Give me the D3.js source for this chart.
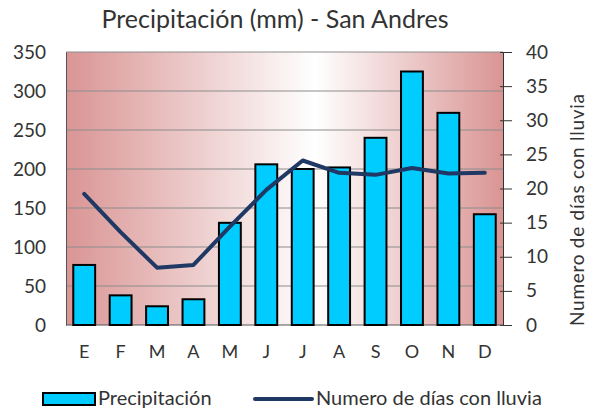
<!DOCTYPE html>
<html>
<head>
<meta charset="utf-8">
<script src="https://cdn.jsdelivr.net/npm/d3@7"></script>
<style>
  body { margin: 0; background: #fff; }
  text { font-family: Lato, "Open Sans", sans-serif; fill: #333; }
</style>
</head>
<body>
<div id="chart"></div>
<script>
  // Chart data
  const months = ["E", "F", "M", "A", "M", "J", "J", "A", "S", "O", "N", "D"];
  const precipitacion = [77, 38, 24, 33, 131, 206, 200, 202, 240, 325, 272, 142];
  const diasLluvia = [19.2, 13.6, 8.4, 8.8, 14.4, 19.8, 24.1, 22.3, 22, 23, 22.2, 22.3];
  const leftTicks = [0, 50, 100, 150, 200, 250, 300, 350];
  const rightTicks = [0, 5, 10, 15, 20, 25, 30, 35, 40];

  const width = 589, height = 408;
  const margin = { top: 52, right: 86, bottom: 83, left: 66 };
  const innerW = width - margin.left - margin.right;
  const innerH = height - margin.top - margin.bottom;

  const svg = d3.select("#chart").append("svg")
    .attr("width", width)
    .attr("height", height);

  // background gradient: pink at both edges, white in the middle
  const defs = svg.append("defs");
  const grad = defs.append("linearGradient").attr("id", "bg").attr("x1", 0).attr("x2", 1).attr("y1", 0).attr("y2", 0);
  grad.append("stop").attr("offset", "0%").attr("stop-color", "#d99594");
  grad.append("stop").attr("offset", "57%").attr("stop-color", "#ffffff");
  grad.append("stop").attr("offset", "100%").attr("stop-color", "#d99594");

  const g = svg.append("g").attr("transform", `translate(${margin.left},${margin.top})`);

  const x = d3.scaleBand().domain(d3.range(months.length)).range([0, innerW]).paddingInner(0.4).paddingOuter(0.2);
  const yL = d3.scaleLinear().domain([0, 350]).range([innerH, 0]);
  const yR = d3.scaleLinear().domain([0, 40]).range([innerH, 0]);

  g.append("rect").attr("width", innerW).attr("height", innerH).attr("fill", "url(#bg)");

  // gridlines
  g.append("g").selectAll("line").data(leftTicks.filter(d => d > 0)).join("line")
    .attr("x1", 0).attr("x2", innerW)
    .attr("y1", d => yL(d)).attr("y2", d => yL(d))
    .attr("stroke", "#8c8c8c").attr("stroke-width", 1);

  // left axis
  const axL = g.append("g").call(d3.axisLeft(yL).tickValues(leftTicks).tickSize(0).tickPadding(20));
  axL.select(".domain").attr("stroke", "#555");
  axL.selectAll("text").style("font-size", "19px").attr("fill", "#333");

  // right axis
  const axR = g.append("g").attr("transform", `translate(${innerW},0)`)
    .call(d3.axisRight(yR).tickValues(rightTicks).tickSize(9).tickPadding(14));
  axR.select(".domain").attr("stroke", "#333");
  axR.selectAll(".tick line").attr("x1", -3).attr("stroke", "#333");
  axR.selectAll("text").style("font-size", "19px").attr("fill", "#333");

  // bottom axis line
  g.append("line").attr("x1", 0).attr("x2", innerW).attr("y1", innerH).attr("y2", innerH).attr("stroke", "#555");

  // bars
  g.append("g").selectAll("rect").data(precipitacion).join("rect")
    .attr("x", (d, i) => x(i))
    .attr("y", d => yL(d))
    .attr("width", x.bandwidth())
    .attr("height", d => innerH - yL(d))
    .attr("fill", "#00ccff")
    .attr("stroke", "#000")
    .attr("stroke-width", 2);

  // line
  const line = d3.line().x((d, i) => x(i) + x.bandwidth() / 2).y(d => yR(d));
  g.append("path").datum(diasLluvia)
    .attr("d", line)
    .attr("fill", "none")
    .attr("stroke", "#1f3864")
    .attr("stroke-width", 4)
    .attr("stroke-linejoin", "round")
    .attr("stroke-linecap", "round");

  // month labels
  g.append("g").selectAll("text").data(months).join("text")
    .attr("x", (d, i) => x(i) + x.bandwidth() / 2)
    .attr("y", innerH + 33)
    .attr("text-anchor", "middle")
    .style("font-size", "18px")
    .text(d => d);

  // title
  svg.append("text").attr("x", 275).attr("y", 28).attr("text-anchor", "middle")
    .style("font-size", "25px").text("Precipitación (mm) - San Andres");

  // right axis title
  svg.append("text").attr("transform", "translate(584,210) rotate(-90)")
    .attr("text-anchor", "middle").style("font-size", "19px")
    .attr("textLength", 232).attr("lengthAdjust", "spacing")
    .text("Numero de días con lluvia");

  // legend
  const lg = svg.append("g");
  lg.append("rect").attr("x", 43).attr("y", 393).attr("width", 52).attr("height", 12)
    .attr("fill", "#00ccff").attr("stroke", "#000").attr("stroke-width", 2);
  lg.append("text").attr("x", 98).attr("y", 405).style("font-size", "20px").text("Precipitación");
  lg.append("line").attr("x1", 255).attr("x2", 312).attr("y1", 399).attr("y2", 399)
    .attr("stroke", "#1f3864").attr("stroke-width", 4).attr("stroke-linecap", "round");
  lg.append("text").attr("x", 316).attr("y", 405).style("font-size", "20px").text("Numero de días con lluvia");
</script>
</body>
</html>
